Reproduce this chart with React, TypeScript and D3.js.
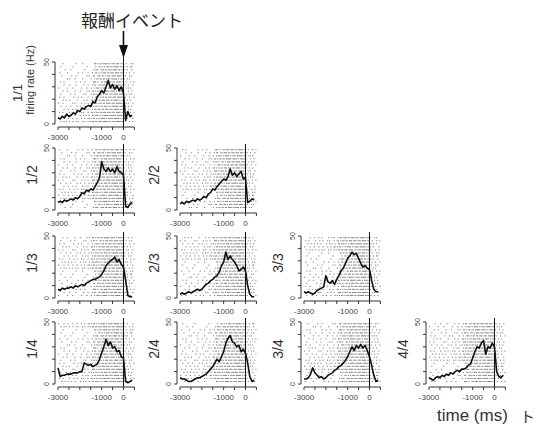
import * as d3 from 'd3';

// PSTH bins (ms, relative to reward)
const timeBins = [
  -3000, -2900, -2800, -2700, -2600, -2500, -2400, -2300, -2200, -2100,
  -2000, -1900, -1800, -1700, -1600, -1500, -1400, -1300, -1200, -1100,
  -1000, -900, -800, -700, -600, -500, -400, -300, -200, -100,
  0, 100, 200, 300, 400,
];

// firing rate (Hz) per panel
const rate_1_1 = [5, 4, 6, 5, 8, 6, 7, 9, 8, 11, 10, 13, 12, 14, 15, 14, 18, 17, 22, 24, 27, 25, 30, 35, 29, 32, 28, 31, 27, 30, 25, 3, 10, 6, 7];
const rate_1_2 = [6, 7, 6, 8, 7, 8, 9, 8, 10, 9, 11, 14, 13, 16, 15, 17, 16, 19, 22, 26, 39, 33, 31, 34, 31, 33, 30, 35, 31, 30, 28, 3, 2, 5, 6];
const rate_2_2 = [5, 6, 5, 7, 6, 7, 8, 7, 9, 8, 9, 11, 10, 13, 14, 17, 16, 19, 21, 23, 25, 24, 27, 33, 28, 30, 27, 29, 31, 25, 26, 6, 7, 9, 8];
const rate_1_3 = [7, 6, 8, 7, 8, 8, 9, 8, 10, 9, 10, 11, 10, 12, 13, 14, 15, 15, 16, 17, 19, 22, 26, 28, 30, 31, 33, 29, 31, 27, 25, 14, 2, 1, 1];
const rate_2_3 = [3, 4, 3, 4, 5, 4, 5, 6, 7, 6, 7, 9, 11, 12, 14, 15, 17, 18, 21, 26, 29, 37, 31, 34, 31, 29, 26, 22, 23, 25, 22, 10, 3, 1, 1];
const rate_3_3 = [5, 4, 5, 4, 3, 4, 6, 7, 8, 9, 18, 13, 12, 14, 11, 15, 18, 22, 24, 28, 32, 34, 37, 35, 36, 32, 28, 25, 26, 24, 23, 14, 7, 5, 5];
const rate_1_4 = [13, 6, 7, 7, 8, 8, 8, 9, 9, 9, 10, 10, 17, 16, 15, 16, 14, 15, 16, 20, 25, 30, 36, 31, 34, 29, 30, 26, 27, 22, 21, 2, 1, 2, 3];
const rate_2_4 = [5, 4, 4, 3, 2, 2, 3, 4, 5, 5, 6, 7, 8, 10, 12, 14, 17, 20, 18, 22, 26, 33, 37, 39, 34, 33, 30, 31, 26, 28, 25, 17, 6, 2, 3];
const rate_3_4 = [4, 4, 5, 8, 13, 9, 7, 5, 6, 4, 5, 7, 8, 9, 11, 12, 14, 15, 17, 19, 22, 26, 30, 27, 31, 29, 32, 29, 31, 27, 22, 15, 7, 2, 3];
const rate_4_4 = [5, 4, 3, 5, 6, 5, 7, 6, 8, 7, 9, 8, 10, 11, 10, 12, 12, 13, 15, 16, 21, 26, 30, 29, 33, 35, 24, 30, 29, 33, 30, 10, 6, 5, 7];

const panels = [
  { label: '1/1', row: 0, col: 0, rate: rate_1_1 },
  { label: '1/2', row: 1, col: 0, rate: rate_1_2 },
  { label: '2/2', row: 1, col: 1, rate: rate_2_2 },
  { label: '1/3', row: 2, col: 0, rate: rate_1_3 },
  { label: '2/3', row: 2, col: 1, rate: rate_2_3 },
  { label: '3/3', row: 2, col: 2, rate: rate_3_3 },
  { label: '1/4', row: 3, col: 0, rate: rate_1_4 },
  { label: '2/4', row: 3, col: 1, rate: rate_2_4 },
  { label: '3/4', row: 3, col: 2, rate: rate_3_4 },
  { label: '4/4', row: 3, col: 3, rate: rate_4_4 },
];

// spike raster, one string per trial, 50 ms per character from -3000 ms
const rasterTrials = [
  '....|..... ......|... ..|....... ...||.|.|| .||||.||.| ||.|||.|.| ..|...|.|.',
  '..|....... ...|...... ......|... ....|..||. |.|.|||.|| .|||||.||. |..|..||..',
  '......|... .|........ ....|..... ..|.|||..| ||.||.|||. ||||.||.|| .|.|...|..',
  '.|......|. ........|. ..|....|.. .|..||.|.| .|||.||.|| |.||||.||| ..|..|...|',
  '...|...... ..|...|... ......|.|. ..||..|||. ||.|.|||.| |||.||||.| .|...|.|..',
  '........|. |....|.... ..|....... |..|.||.|| .||.||||.| ||||.|.||| |..|.|....',
  '..|..|.... ......|... |...|..... ..|||.|..| |.|||.|||. ||.|||||.| ..|...|..|',
  '.....|.... |.....|... ...|...|.. .|.||..||. |||.||.||| .|||.|||.| .|..|...|.',
  '|.......|. ...|...... .|....|... |..|.|||.| .||||.|.|| |.|||||.|| ..|.|.|...',
  '....|...|. .....|.... |.....|.|. .||.|.||.| |.|||||.|| ||.|.||||. |...|..|..',
  '..|....... .|...|.... ...|.|.... |.||.|..|| .|.|||.||| .||||.|||| ..|..|.|..',
  '.|...|.... ....|...|. .|.....|.. .|..|||.|. ||.||.|||. |||.|||||| .|...|...|',
  '....|..|.. |......|.. ...|..|... ||.|.|.||. |||.|||.|| .||||.|.|| |..|..|...',
  '|...|..... ...|.|.... .|..|..|.. .|||.|.||| .||.||||.| ||.||||||. ..|.|...|.',
  '..|....|.. .|.....|.. |...|...|. |.|.||.|.| |.|||.||.| |||||.|||| .|..|..|..',
  '.....|...| ...|..|... ..|..|.|.. .|.||.|||. ||.|||.||| .|||||.||| |...|.|...',
  '.|..|..... |...|..|.. .|.|...|.. ||.|.||.|| .|||.|||.| ||.||||.|| ..|...|..|',
  '...|..|..| ..|..|.... |..|.|..|. .||.|||.|. |.||||.||| |||.|||||. .|.|..|...',
  '|....|...| ...|...|.. .|..|..||. |.||.|.|.| |||.|.|||| .|||||.|.| |..|....|.',
  '..|..|.|.. |..|..|.|. ..|.|..|.| .||.||.||| .||||.||.| ||.||||||| .|...|..|.',
];

const xTicks = [-3000, -2500, -2000, -1500, -1000, -500, 0, 500];
const xTickLabels = [-3000, -1000, 0];
const yTicks = [0, 10, 20, 30, 40, 50];
const yTickLabels = [0, 50];

const colX = [58, 180, 304, 429];
const rowY = [62, 148, 236, 322];
const PW = 76.4;
const PH = 62;
const sans = "'Liberation Sans', Arial, sans-serif";

function Panel({ label, row, col, rate, index }: { label: string; row: number; col: number; rate: number[]; index: number }) {
  const x = d3.scaleLinear().domain([-3000, 500]).range([0, PW]);
  const y = d3.scaleLinear().domain([0, 50]).range([PH, 0]);
  const line = d3
    .line<number>()
    .x((_, i) => x(timeBins[i]))
    .y((d) => y(d));

  const n = rasterTrials.length;
  const trials = rasterTrials.map((_, r) => rasterTrials[(r + index * 3) % n].replace(/ /g, ''));
  const first = row === 0;

  return (
    <g transform={`translate(${colX[col]},${rowY[row]})`}>
      <g fill="#808080">
        {trials.map((t, r) =>
          t.split('').map((c, i) =>
            c === '|' ? (
              <rect key={`${r}-${i}`} x={x(-3000 + i * 50)} y={y(49 - r * 2.45)} width={1.2} height={1} />
            ) : null
          )
        )}
      </g>
      <line x1={x(0)} x2={x(0)} y1={first ? -5 : -4} y2={PH + 6} stroke="#111" strokeWidth={1} />
      <path d={line(rate) ?? ''} fill="none" stroke="#111" strokeWidth={1.6} strokeLinejoin="round" />

      {/* y axis */}
      <line x1={-3} x2={-3} y1={y(50)} y2={y(0)} stroke="#333" strokeWidth={1} />
      {yTicks.map((t) => (
        <line key={t} x1={-6} x2={-3} y1={y(t)} y2={y(t)} stroke="#333" strokeWidth={1} />
      ))}
      {yTickLabels.map((t) => (
        <text
          key={t}
          transform={`translate(-9.5,${y(t)}) rotate(-90)`}
          textAnchor="middle"
          fontSize={7}
          fontFamily={sans}
          fill="#444"
        >
          {t}
        </text>
      ))}

      {/* x axis */}
      <line x1={x(-3000)} x2={x(500)} y1={PH + 3} y2={PH + 3} stroke="#333" strokeWidth={1} />
      {xTicks.map((t) => (
        <line key={t} x1={x(t)} x2={x(t)} y1={PH + 3} y2={PH + 6} stroke="#333" strokeWidth={1} />
      ))}
      {xTickLabels.map((t) => (
        <text key={t} x={x(t)} y={PH + 16} textAnchor="middle" fontSize={8} fontFamily={sans} fill="#444">
          {t}
        </text>
      ))}

      {first ? (
        <>
          <text transform={`translate(-36,${PH / 2}) rotate(-90)`} textAnchor="middle" fontSize={13} fontFamily={sans} fill="#333">
            {label}
          </text>
          <text transform={`translate(-24,${PH / 2 - 13}) rotate(-90)`} textAnchor="middle" fontSize={11} fontFamily={sans} fill="#333">
            firing rate (Hz)
          </text>
          <line x1={x(0)} x2={x(0)} y1={-31} y2={-14} stroke="#111" strokeWidth={1.6} />
          <path d={`M${x(0)},-4 L${x(0) - 4.5},-17 L${x(0) + 4.5},-17 Z`} fill="#111" />
        </>
      ) : (
        <text transform={`translate(-21,${PH / 2 - 4}) rotate(-90)`} textAnchor="middle" fontSize={14} fontFamily={sans} fill="#333">
          {label}
        </text>
      )}
    </g>
  );
}

export default function App() {
  return (
    <svg width={537} height={426} style={{ position: 'absolute', left: 0, top: 0, background: '#fff' }}>
      <rect width={537} height={426} fill="#fff" />
      <text x={81} y={27} fontSize={17} fontFamily="'Noto Sans CJK JP', sans-serif" fill="#222">
        報酬イベント
      </text>
      {panels.map((p, i) => (
        <Panel key={p.label} {...p} index={i} />
      ))}
      <text x={437} y={421} fontSize={17} fontFamily={sans} fill="#333">
        time (ms)
      </text>
      <text x={520} y={422} fontSize={15} fontFamily="'Noto Sans CJK JP', sans-serif" fill="#333">
        ト
      </text>
    </svg>
  );
}
